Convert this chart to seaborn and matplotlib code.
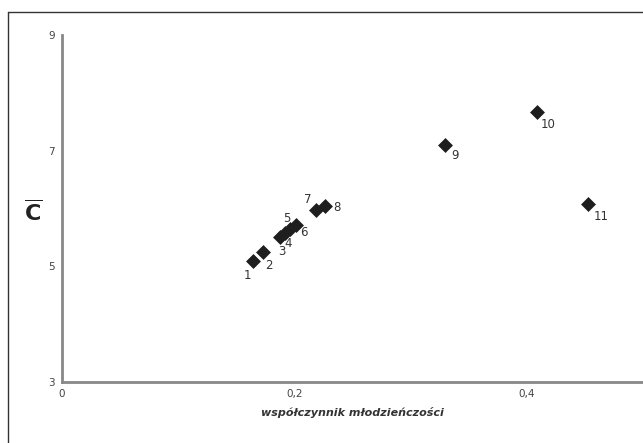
import matplotlib
matplotlib.use("Agg")
import matplotlib.pyplot as plt
import seaborn as sns
import pandas as pd
from matplotlib.ticker import MultipleLocator, FixedLocator, FuncFormatter
from matplotlib.lines import Line2D

labels = ["1", "2", "3", "4", "5", "6", "7", "8", "9", "10", "11"]
xvals = [0.164, 0.173, 0.188, 0.192, 0.196, 0.201, 0.219, 0.226, 0.330, 0.409, 0.453]
yvals = [5.09, 5.25, 5.50, 5.57, 5.64, 5.71, 5.98, 6.04, 7.10, 7.67, 6.08]
label_offsets = [(-4, -10), (4, -10), (1, -10), (2, -7), (-2, 8), (6, -5),
                 (-6, 7), (9, -1), (7, -8), (8, -9), (9, -9)]

df = pd.DataFrame({"x": xvals, "y": yvals, "label": labels})

sns.set_style("white")
fig = plt.figure(figsize=(6.43, 4.43), dpi=100)
ax = fig.add_axes([62/643, 1-382/443, 1-62/643, (382-35)/443])

sns.scatterplot(data=df, x="x", y="y", marker="D", s=50, color="#1e1e1e",
                edgecolor="#1e1e1e", linewidth=0.5, ax=ax, zorder=3)

for xv, yv, lab, off in zip(xvals, yvals, labels, label_offsets):
    ax.annotate(lab, (xv, yv), xytext=off, textcoords="offset points",
                fontsize=8.5, color="#333333", ha="center", va="center")

ax.set_xlim(0, 0.5)
ax.set_ylim(3, 9)
ax.xaxis.set_major_locator(MultipleLocator(0.1))
ax.xaxis.set_major_formatter(FuncFormatter(
    lambda v, p: ("0" if abs(v) < 1e-9 else f"{v:.1f}".replace(".", ",")) if round(v * 10) % 2 == 0 else ""))
ax.yaxis.set_major_locator(FixedLocator([3, 5, 7, 9]))
ax.yaxis.set_minor_locator(MultipleLocator(1))
ax.tick_params(axis="both", which="both", direction="out", length=3, width=1,
               color="#888888", labelsize=7.5, labelcolor="#444444", pad=2)
ax.tick_params(axis="y", which="minor", length=3)

for s in ["top", "right"]:
    ax.spines[s].set_visible(False)
for s in ["left", "bottom"]:
    ax.spines[s].set_color("#888888")
    ax.spines[s].set_linewidth(2)

ax.set_xlabel("współczynnik młodzieńczości", fontsize=8, fontstyle="italic",
              fontweight="bold", color="#333333", labelpad=6)
ax.set_ylabel("")
fig.text(33/643, 1-212/443, r"$\overline{\mathbf{C}}$", fontsize=16, ha="center", va="center",
         color="#222222", math_fontfamily="dejavusans")

# outer frame
fig.add_artist(Line2D([8/643, 8/643], [0, 1-12/443], transform=fig.transFigure,
                      color="#333333", linewidth=1))
fig.add_artist(Line2D([8/643, 1], [1-12/443, 1-12/443], transform=fig.transFigure,
                      color="#333333", linewidth=1))

fig.savefig("out.png", dpi=100)
